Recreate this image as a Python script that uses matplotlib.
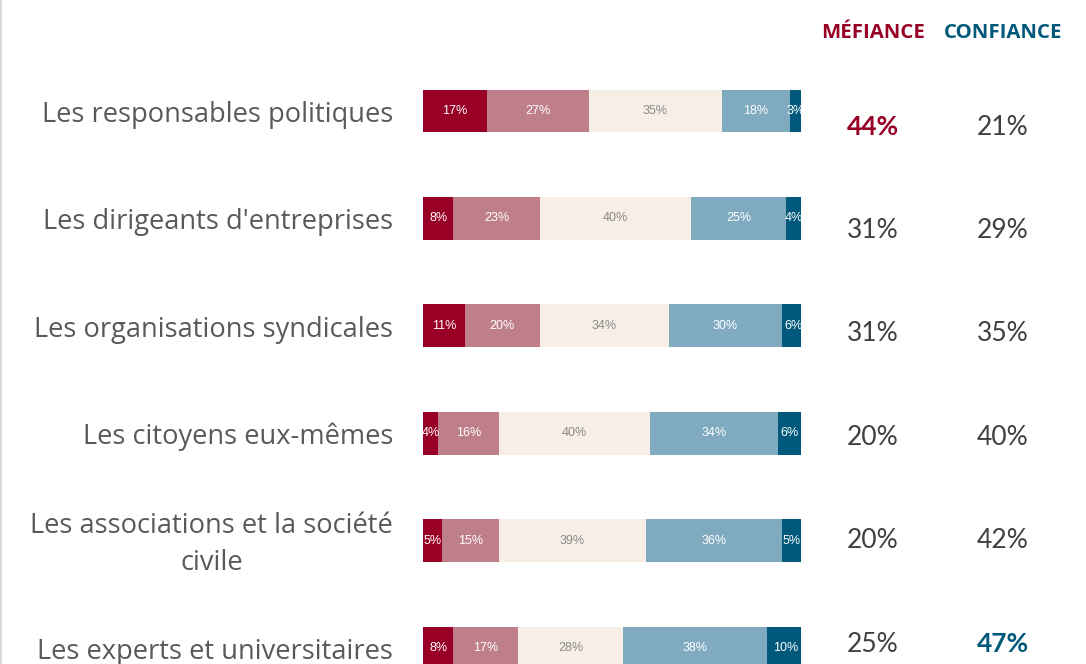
import matplotlib.pyplot as plt
import numpy as np
from matplotlib.lines import Line2D

# data
categories = ["Les responsables politiques",
              "Les dirigeants d'entreprises",
              "Les organisations syndicales",
              "Les citoyens eux-mêmes",
              "Les associations et la société\ncivile",
              "Les experts et universitaires"]
tres_mefiant = [17, 8, 11, 4, 5, 8]
plutot_mefiant = [27, 23, 20, 16, 15, 17]
neutre = [35, 40, 34, 40, 39, 28]
plutot_confiant = [18, 25, 30, 34, 36, 38]
tres_confiant = [3, 4, 6, 6, 5, 10]
mefiance = [44, 31, 31, 20, 20, 25]
confiance = [21, 29, 35, 40, 42, 47]

series = [tres_mefiant, plutot_mefiant, neutre, plutot_confiant, tres_confiant]
colors = ['#990026', '#bf7f8a', '#f7eee6', '#7faac0', '#00587a']
txt_colors = ['white', 'white', '#8a8a8a', 'white', 'white']
red = '#990026'
blue = '#00587a'
grey = '#404040'

W, H = 1086, 664
fig = plt.figure(figsize=(W / 100, H / 100), dpi=100)

# bars axis: x 0..100 mapped to px 423..801
ax = fig.add_axes([423 / W, 0, 378 / W, 1])
ax.set_xlim(0, 100)
ax.set_ylim((H - 111) / 107.4, -111 / 107.4)
ax.axis('off')

y = np.arange(len(categories))
left = np.zeros(len(categories))
for vals, c, tc in zip(series, colors, txt_colors):
    vals = np.array(vals)
    ax.barh(y, vals, left=left, height=0.40, color=c, edgecolor='none')
    for yi, l, v in zip(y, left, vals):
        ax.text(l + v / 2, yi, f"{v}%", ha='center', va='center',
                fontsize=9, color=tc, family='Liberation Sans')
    left += vals

for yi, cat in zip(y, categories):
    ax.text(-7.9, yi + 0.035, cat, ha='right', va='center', multialignment='center',
            fontsize=19.6, color='#595959', family='Open Sans', linespacing=1.45)

# summary columns
ax2 = fig.add_axes([0, 0, 1, 1])
ax2.set_xlim(0, W)
ax2.set_ylim((H - 125) / 103.4, -125 / 103.4)
ax2.axis('off')
col_m, col_c = 873, 1003
ax2.text(col_m, -0.89, "MÉFIANCE", ha='center', va='center', fontsize=14.7,
         fontweight='bold', color=red, family='Open Sans')
ax2.text(col_c, -0.89, "CONFIANCE", ha='center', va='center', fontsize=14.7,
         fontweight='bold', color=blue, family='Open Sans')
i_m = int(np.argmax(mefiance))
i_c = int(np.argmax(confiance))
for i, (m, c) in enumerate(zip(mefiance, confiance)):
    ax2.text(col_m, i + 0.02, f"{m}%", ha='center', va='center', fontsize=19,
             family='Lato', color=red if i == i_m else grey,
             fontweight='bold' if i == i_m else 'normal')
    ax2.text(col_c, i + 0.02, f"{c}%", ha='center', va='center', fontsize=19,
             family='Lato', color=blue if i == i_c else grey,
             fontweight='bold' if i == i_c else 'normal')

fig.add_artist(Line2D([0.001, 0.001], [0, 1], color='#d9d9d9', lw=1.5))

fig.savefig('out.png', dpi=100)
